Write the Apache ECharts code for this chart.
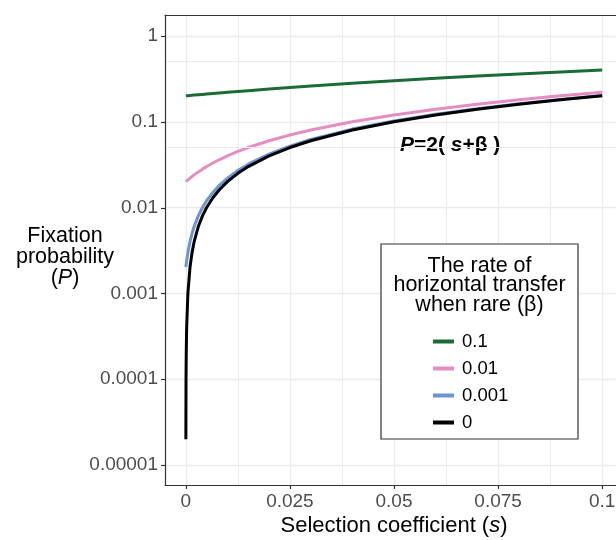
<!DOCTYPE html>
<html>
<head>
<meta charset="utf-8">
<script src="https://cdn.jsdelivr.net/npm/echarts@6/dist/echarts.min.js"></script>
<style>
html, body { margin: 0; padding: 0; background: #fff; }
#main { width: 616px; height: 540px; }
</style>
</head>
<body>
<div id="main"></div>
<script>
// selection coefficient (s) where values were read
let sValues = [0.00001, 0.00005, 0.0001, 0.0002, 0.0005, 0.001, 0.0015, 0.002, 0.003, 0.004, 0.005, 0.0065, 0.008, 0.01, 0.0125, 0.015, 0.02, 0.025, 0.03, 0.04, 0.05, 0.06, 0.07, 0.08, 0.09, 0.1]
// fixation probability P for each beta
let pBeta01 = [0.20002, 0.2001, 0.2002, 0.2004, 0.201, 0.202, 0.203, 0.204, 0.206, 0.208, 0.21, 0.213, 0.216, 0.22, 0.225, 0.23, 0.24, 0.25, 0.26, 0.28, 0.3, 0.32, 0.34, 0.36, 0.38, 0.4]
let pBeta001 = [0.02002, 0.0201, 0.0202, 0.0204, 0.021, 0.022, 0.023, 0.024, 0.026, 0.028, 0.03, 0.033, 0.036, 0.04, 0.045, 0.05, 0.06, 0.07, 0.08, 0.1, 0.12, 0.14, 0.16, 0.18, 0.2, 0.22]
let pBeta0001 = [0.00202, 0.0021, 0.0022, 0.0024, 0.003, 0.004, 0.005, 0.006, 0.008, 0.01, 0.012, 0.015, 0.018, 0.022, 0.027, 0.032, 0.042, 0.052, 0.062, 0.082, 0.102, 0.122, 0.142, 0.162, 0.182, 0.202]
let pBeta0 = [0.00002, 0.0001, 0.0002, 0.0004, 0.001, 0.002, 0.003, 0.004, 0.006, 0.008, 0.01, 0.013, 0.016, 0.02, 0.025, 0.03, 0.04, 0.05, 0.06, 0.08, 0.1, 0.12, 0.14, 0.16, 0.18, 0.2]
let betaNames = ['0.1', '0.01', '0.001', '0']
let colors = ['#1c6a36', '#e38dc1', '#6d93d0', '#000000']
let xTickValues = [0, 0.025, 0.05, 0.075, 0.1]
let xTickLabels = ['0', '0.025', '0.05', '0.075', '0.1']
let yTickValues = [0.00001, 0.0001, 0.001, 0.01, 0.1, 1]
let yTickLabels = ['0.00001', '0.0001', '0.001', '0.01', '0.1', '1']
let yMinorBreaks = [0.5, 0.05, 0.005, 0.0005, 0.00005]

const FONT = '"Liberation Sans", Arial, sans-serif'
let chart = echarts.init(document.getElementById('main'))

function pairs(ys) {
    return sValues.map((s, i) => [s, ys[i]])
}

function closest(list, v) {
    let best = 0
    list.forEach((t, i) => {
        if (Math.abs(Math.log10(t + 1e-9) - Math.log10(v + 1e-9)) < Math.abs(Math.log10(list[best] + 1e-9) - Math.log10(v + 1e-9))) best = i
    })
    return best
}

let curves = [pBeta01, pBeta001, pBeta0001, pBeta0].map((ys, i) => ({
    name: betaNames[i],
    type: 'line',
    xAxisIndex: 0,
    yAxisIndex: 0,
    data: pairs(ys),
    showSymbol: false,
    symbol: 'none',
    color: colors[i],
    lineStyle: { color: colors[i], width: 3 },
    z: 3 + i
}))

let border = { show: true, onZero: false, lineStyle: { color: '#333', width: 1.2 } }
let gridLine = { show: true, lineStyle: { color: '#ebebeb', width: 1.3 } }

let option = {
    animation: false,
    textStyle: { fontFamily: FONT },
    grid: [
        // panel that holds the data
        { left: 165, top: 15, width: 458, height: 470, outerBoundsMode: 'none' },
        // vertical grid lines 0..0.1
        { left: 186, top: 15, width: 416, height: 470, outerBoundsMode: 'none' },
        // horizontal grid lines 1e-5..1
        { left: 165, top: 36, width: 458, height: 429, outerBoundsMode: 'none' }
    ],
    xAxis: [
        {
            type: 'value', gridIndex: 0, min: -0.005, max: 0.105, position: 'bottom', z: 10,
            axisLine: border,
            axisTick: { show: false },
            axisLabel: {
                customValues: xTickValues,
                color: '#4d4d4d', fontSize: 19, margin: 7, fontFamily: FONT,
                formatter: v => xTickLabels[closest(xTickValues.map(t => t + 1), v + 1)]
            },
            splitLine: { show: false },
            name: 'Selection coefficient ({i|s})',
            nameLocation: 'middle',
            nameGap: 30,
            nameMoveOverlap: false,
            nameTextStyle: {
                color: '#000', fontSize: 22, fontFamily: FONT,
                rich: { i: { fontStyle: 'italic', fontSize: 22, color: '#000', fontFamily: FONT } }
            }
        },
        {
            type: 'value', gridIndex: 1, min: 0, max: 0.1, interval: 0.025,
            axisLine: { show: false }, axisTick: { show: false }, axisLabel: { show: false },
            splitLine: gridLine,
            minorTick: { show: false, splitNumber: 2 },
            minorSplitLine: { show: true, lineStyle: { color: '#ebebeb', width: 1 } }
        },
        { type: 'value', gridIndex: 2, min: 0, max: 1, show: false },
        {
            // top border of the panel
            type: 'value', gridIndex: 0, min: -0.005, max: 0.105, position: 'top', z: 10,
            axisLine: border, axisTick: { show: false }, axisLabel: { show: false }, splitLine: { show: false }
        }
    ],
    yAxis: [
        {
            type: 'log', gridIndex: 0, min: 0.00000585, max: 1.75, position: 'left', z: 10,
            axisLine: border,
            axisTick: { show: false },
            axisLabel: {
                customValues: yTickValues,
                color: '#4d4d4d', fontSize: 19, margin: 7, fontFamily: FONT,
                formatter: v => yTickLabels[closest(yTickValues, v)]
            },
            splitLine: { show: false },
            name: 'Fixation\nprobability\n({i|P})',
            nameLocation: 'middle',
            nameRotate: 0,
            nameGap: 100,
            nameMoveOverlap: false,
            nameTextStyle: {
                color: '#000', fontSize: 21.5, lineHeight: 21, align: 'center', fontFamily: FONT,
                padding: [14, 0, 0, 0],
                rich: { i: { fontStyle: 'italic', fontSize: 21.5, lineHeight: 21, color: '#000', fontFamily: FONT } }
            }
        },
        { type: 'value', gridIndex: 1, min: 0, max: 1, show: false },
        {
            type: 'log', gridIndex: 2, min: 0.00001, max: 1,
            axisLine: { show: false }, axisTick: { show: false }, axisLabel: { show: false },
            splitLine: gridLine
        }
    ],
    legend: {
        data: betaNames,
        orient: 'vertical',
        left: 433,
        top: 332,
        padding: 0,
        itemWidth: 21,
        itemHeight: 4,
        itemGap: 8,
        icon: 'rect',
        z: 6,
        textStyle: { color: '#000', fontSize: 18.5, fontFamily: FONT, padding: [0, 0, 0, 3] }
    },
    graphic: [
        {
            type: 'rect', z: 4,
            shape: { x: 381, y: 244, width: 197, height: 195 },
            style: { fill: '#fff', stroke: '#333', lineWidth: 1.2 }
        },
        {
            type: 'text', z: 5,
            x: 479.5, y: 285.5,
            style: {
                text: 'The rate of\nhorizontal transfer\nwhen rare (β)',
                font: '21.5px ' + FONT,
                fill: '#000',
                align: 'center',
                verticalAlign: 'middle',
                lineHeight: 19.5
            }
        },
        {
            type: 'text', z: 5,
            x: 400, y: 145,
            style: {
                text: '{i|P}{b|=2( }{i|s}{b|+β )}',
                verticalAlign: 'middle',
                fill: '#000',
                font: 'bold 21px ' + FONT,
                rich: {
                    i: { fontStyle: 'italic', fontWeight: 'bold', fontSize: 21, fontFamily: FONT, fill: '#000' },
                    b: { fontWeight: 'bold', fontSize: 21, fontFamily: FONT, fill: '#000' }
                }
            }
        }
    ],
    series: [
        {
            // minor grid lines of the log axis
            type: 'line', xAxisIndex: 0, yAxisIndex: 0, data: [], z: 1, silent: true,
            markLine: {
                silent: true, symbol: 'none', label: { show: false },
                lineStyle: { color: '#ebebeb', width: 1, type: 'solid' },
                data: yMinorBreaks.map(v => ({ yAxis: v }))
            }
        }
    ].concat(curves)
}

chart.setOption(option)

// tick marks, placed through the axes' own scales
let tickStyle = { stroke: '#333', lineWidth: 1.2 }
let x0 = chart.convertToPixel({ xAxisIndex: 0 }, -0.005)
let y0 = chart.convertToPixel({ yAxisIndex: 0 }, 0.00000585)
xTickValues.forEach(v => {
    let px = Math.round(chart.convertToPixel({ xAxisIndex: 0 }, v)) + 0.5
    option.graphic.push({ type: 'line', z: 10, shape: { x1: px, y1: y0, x2: px, y2: y0 + 4 }, style: tickStyle })
})
yTickValues.forEach(v => {
    let py = Math.round(chart.convertToPixel({ yAxisIndex: 0 }, v)) + 0.5
    option.graphic.push({ type: 'line', z: 10, shape: { x1: x0 - 4, y1: py, x2: x0, y2: py }, style: tickStyle })
})
chart.setOption(option, true)
</script>
</body>
</html>
